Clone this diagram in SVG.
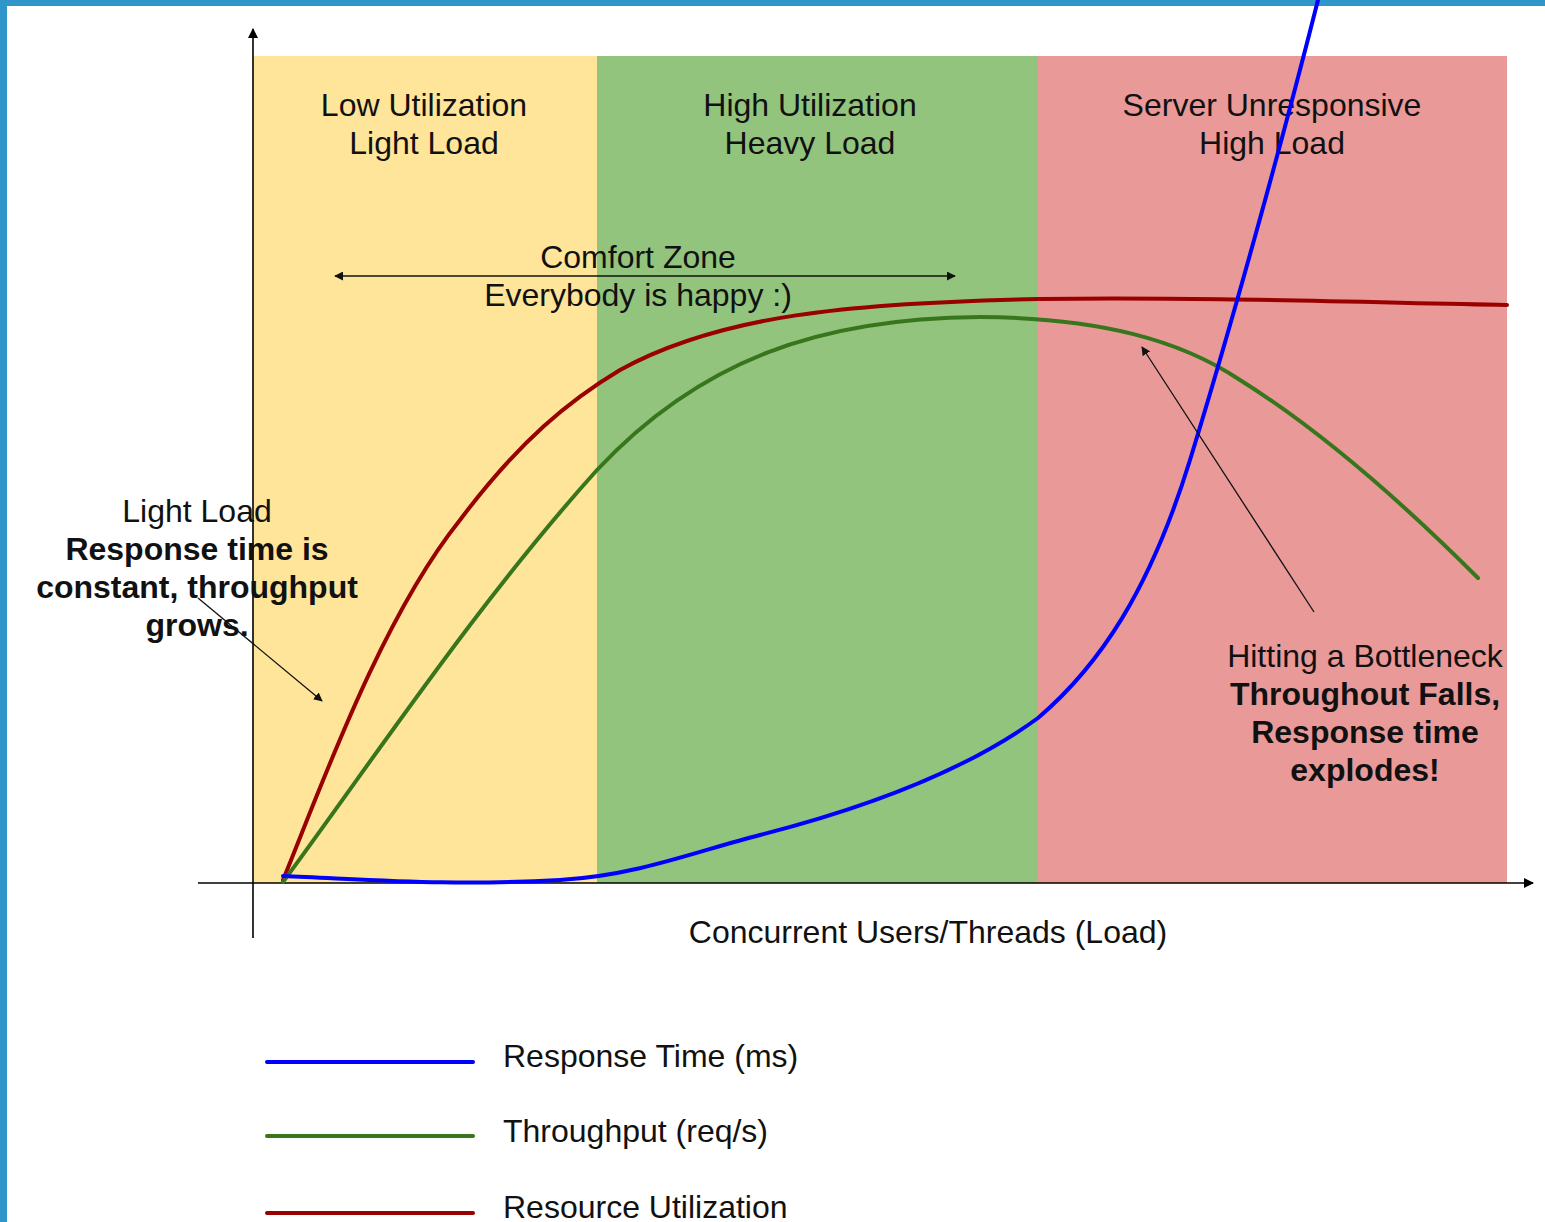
<svg xmlns="http://www.w3.org/2000/svg" width="1545" height="1222" viewBox="0 0 1545 1222">
<style>
text{font-family:"Liberation Sans",Arial,sans-serif;font-size:32px;fill:#111}
.b{font-weight:bold}
.m{text-anchor:middle}
.ax{stroke:#000;stroke-width:1.6;fill:none}
.an{stroke:#111;stroke-width:1.3;fill:none}
.cv{fill:none;stroke-width:4;stroke-linecap:round;stroke-linejoin:round}
</style>
<defs>
<marker id="ah" viewBox="0 0 10 10" refX="9" refY="5" markerWidth="9" markerHeight="9" markerUnits="userSpaceOnUse" orient="auto-start-reverse"><path d="M0,0 L10,5 L0,10 Z" fill="#111"/></marker>
<marker id="ahA" viewBox="0 0 10 10" refX="9" refY="5" markerWidth="10" markerHeight="10" markerUnits="userSpaceOnUse" orient="auto-start-reverse"><path d="M0,0 L10,5 L0,10 Z" fill="#000"/></marker>
</defs>
<rect width="1545" height="1222" fill="#fff"/>
<rect x="0" y="0" width="1545" height="6" fill="#3095C8"/>
<rect x="0" y="0" width="7" height="1222" fill="#3095C8"/>
<g id="zone-low"><rect x="253" y="56" width="344" height="827" fill="#FFE599"/>
<text class="m" x="424" y="116">Low Utilization</text><text class="m" x="424" y="154">Light Load</text></g>
<g id="zone-high"><rect x="597" y="56" width="441" height="827" fill="#93C47D"/>
<text class="m" x="810" y="116">High Utilization</text><text class="m" x="810" y="154">Heavy Load</text></g>
<g id="zone-unresp"><rect x="1038" y="56" width="469" height="827" fill="#EA9999"/>
<text class="m" x="1272" y="116">Server Unresponsive</text><text class="m" x="1272" y="154">High Load</text></g>
<g id="axes">
<line class="ax" x1="253" y1="938" x2="253" y2="29" marker-end="url(#ahA)"/>
<line class="ax" x1="198" y1="883" x2="1533" y2="883" marker-end="url(#ahA)"/>
<text class="m" x="928" y="943">Concurrent Users/Threads (Load)</text>
</g>
<g id="curves">
<path class="cv" stroke="#990000" d="M283,880 C320,790 380,620 460,520 C520,440 570,400 620,370 C720,315 850,303 1038,299 C1200,297 1350,302 1507,305"/>
<path class="cv" stroke="#38761D" d="M283,882 C380,750 480,600 597,470 C700,360 820,318 980,317 C1100,318 1180,340 1240,380 C1320,430 1400,500 1478,578"/>
<path class="cv" stroke="#0000FF" d="M283,876 C380,880 450,886 560,880 C640,875 700,850 760,835 C850,812 960,775 1038,718 C1100,665 1150,590 1190,460 C1230,330 1280,150 1318,0"/>
</g>
<g id="connectors">
<line class="an" x1="335" y1="276" x2="955" y2="276" marker-start="url(#ah)" marker-end="url(#ah)"/>
<line class="an" x1="198" y1="598" x2="322" y2="701" marker-end="url(#ah)"/>
<line class="an" x1="1314" y1="612" x2="1142" y2="347" marker-end="url(#ah)"/>
</g>
<g id="comfort"><text class="m" x="638" y="268">Comfort Zone</text><text class="m" x="638" y="306">Everybody is happy :)</text></g>
<g id="light-note"><text class="m" x="197" y="522">Light Load</text>
<text class="m b" x="197" y="560">Response time is</text><text class="m b" x="197" y="598">constant, throughput</text><text class="m b" x="197" y="636">grows.</text></g>
<g id="bottleneck-note"><text class="m" x="1365" y="667">Hitting a Bottleneck</text>
<text class="m b" x="1365" y="705">Throughout Falls,</text><text class="m b" x="1365" y="743">Response time</text><text class="m b" x="1365" y="781">explodes!</text></g>
<g id="legend">
<line class="cv" stroke="#0000FF" stroke-linecap="butt" x1="267" y1="1062" x2="473" y2="1062"/>
<line class="cv" stroke="#38761D" stroke-linecap="butt" x1="267" y1="1136" x2="473" y2="1136"/>
<line class="cv" stroke="#990000" stroke-linecap="butt" x1="267" y1="1213" x2="473" y2="1213"/>
<text x="503" y="1067">Response Time (ms)</text>
<text x="503" y="1142">Throughput (req/s)</text>
<text x="503" y="1218">Resource Utilization</text>
</g>
</svg>
